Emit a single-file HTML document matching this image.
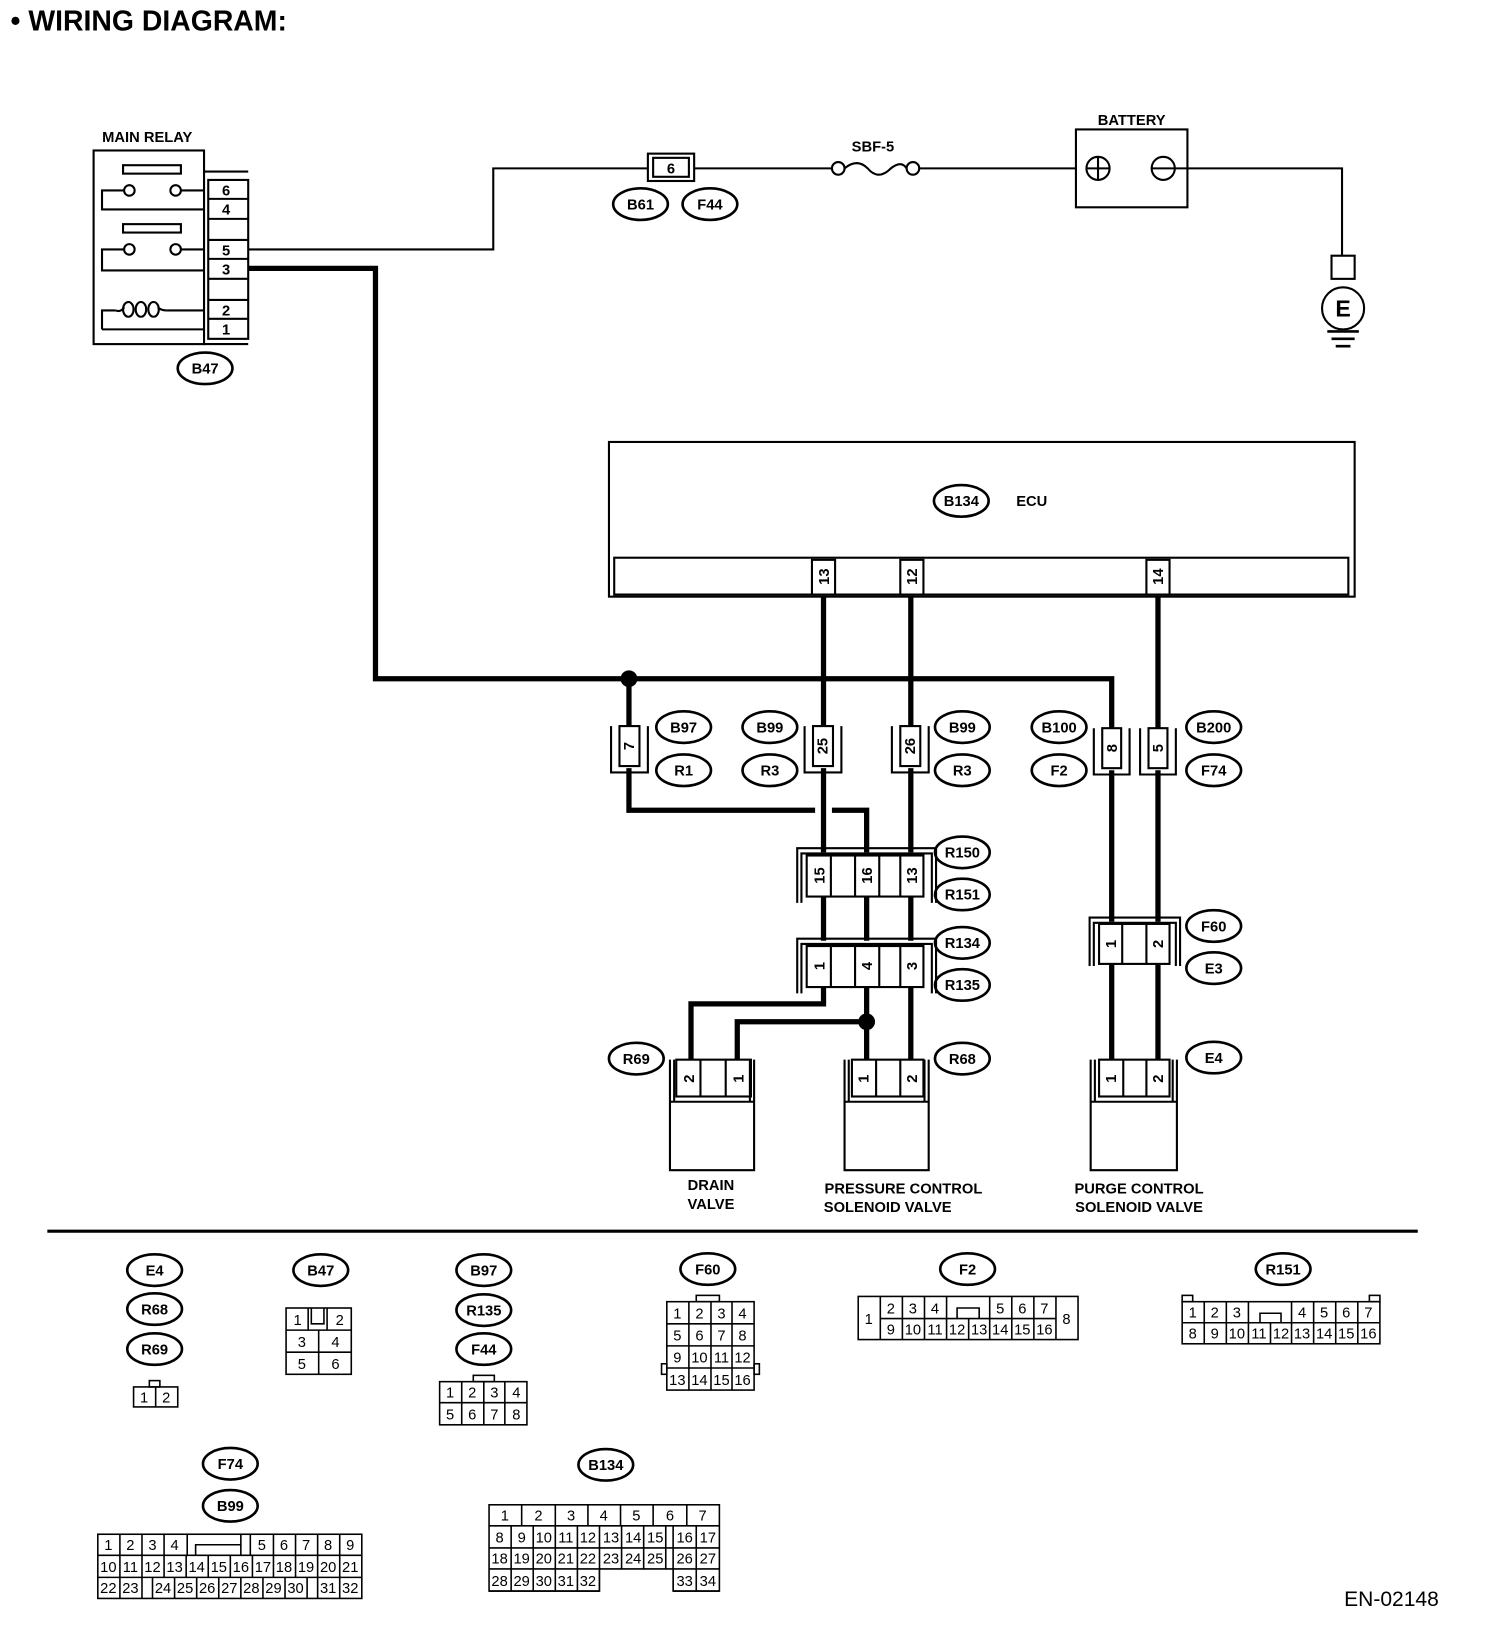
<!DOCTYPE html>
<html><head><meta charset="utf-8"><style>
html,body{margin:0;padding:0;background:#fff;width:1504px;height:1650px;overflow:hidden}
svg{display:block}
text{font-family:"Liberation Sans",Arial,sans-serif;fill:#000}
.b{font-weight:bold}
.lb{font-weight:bold;font-size:14px;text-anchor:middle}
.t{font-size:14px;text-anchor:middle}
</style></head><body>
<svg width="1504" height="1650" viewBox="0 0 1430 1568" preserveAspectRatio="none" xmlns="http://www.w3.org/2000/svg">
<g fill="none" stroke="#000" stroke-width="2">
<!-- main relay -->
<rect x="89" y="143" width="105" height="184"/>
<rect x="117" y="157" width="55" height="8"/>
<circle cx="123" cy="181" r="5"/><circle cx="167" cy="181" r="5"/>
<path d="M118,181H97V199H194M172,181H194"/>
<rect x="117" y="213" width="55" height="8"/>
<circle cx="123" cy="237" r="5"/><circle cx="167" cy="237" r="5"/>
<path d="M118,237H97V257H194M172,237H194"/>
<path d="M97,313V295H110 M158,295H194 M97,313H194"/>
<path d="M110,295 q5,2 8,-3 M150,292 q3,3 8,3"/>
<ellipse cx="122" cy="294" rx="5" ry="7"/><ellipse cx="134" cy="294" rx="5" ry="7"/><ellipse cx="146" cy="294" rx="5" ry="7"/>
<path d="M194,163H236M194,327H236"/>
<rect x="198" y="171" width="38" height="151"/>
<path d="M198,189H236M198,208H236M198,228H236M198,246H236M198,265H236M198,285H236M198,303H236"/>
<!-- thin wire to battery -->
<path d="M236,237H469V160H616M660,160H791M874,160H1023M1117,160H1276V243"/>
<rect x="616" y="146" width="44" height="26"/><rect x="621" y="150" width="34" height="18"/>
<circle cx="797" cy="160" r="6"/><circle cx="868" cy="160" r="6"/>
<path d="M803,160 q12,-10 22,0 q10,12 22,0 q10,-8 15,0"/>
<rect x="1023" y="123" width="106" height="74"/>
<circle cx="1044" cy="160" r="11"/><path d="M1044,149V171M1033,160H1055"/>
<circle cx="1106" cy="160" r="11"/><path d="M1095,160H1117"/>
<rect x="1266" y="243" width="22" height="22"/>
<circle cx="1277" cy="293" r="20"/>
<path d="M1262,315H1292M1266,322H1288M1270,329H1284" stroke-width="2.5"/>
<!-- ECU -->
<rect x="579" y="420" width="709" height="147"/>
<rect x="584" y="530" width="698" height="35"/>
<rect x="772" y="532" width="22" height="33"/><rect x="856" y="532" width="22" height="33"/><rect x="1090" y="532" width="22" height="33"/>
</g>
<g fill="none" stroke="#000" stroke-width="5">
<path d="M236,255H357V645H1057V692"/>
<path d="M598,645V690M598,730V770H775M791,770H824V810"/>
<path d="M783,567V690M783,730V810M783,852V894M783,938V954H657V1007"/>
<path d="M866,567V690M866,730V810M866,852V894M866,938V1007"/>
<path d="M824,852V894M824,938V1007M824,971H701V1007"/>
<path d="M1101,567V692M1101,732V876M1101,916V1007M1057,732V876M1057,916V1007"/>
</g>
<circle cx="598" cy="645" r="8"/><circle cx="824" cy="971" r="8"/>
<g fill="none" stroke="#000" stroke-width="2">
<rect x="589" y="690" width="19" height="38"/><path d="M581,690V734H616V690"/>
<rect x="773" y="690" width="19" height="38"/><path d="M765,690V734H800V690"/>
<rect x="856" y="690" width="19" height="38"/><path d="M848,690V734H883V690"/>
<rect x="1048" y="692" width="18" height="38"/><path d="M1040,692V736H1074V692"/>
<rect x="1092" y="692" width="18" height="38"/><path d="M1084,692V736H1118V692"/>
<path d="M758,858V806H890V858M762,858V811H886V858"/>
<rect x="767" y="813" width="111" height="39" fill="#fff"/>
<path d="M790,813V852M813,813V852M836,813V852M856,813V852"/>
<path d="M758,944V892H890V944M762,944V897H886V944"/>
<rect x="767" y="899" width="111" height="39" fill="#fff"/>
<path d="M790,899V938M813,899V938M836,899V938M856,899V938"/>
<path d="M1036,918V872H1122V918M1040,918V877H1118V918"/>
<rect x="1045" y="878" width="67" height="38" fill="#fff"/>
<path d="M1067,878V916M1090,878V916"/>
<path d="M637,1007V1112H717V1007M641,1007V1047H713V1007M637,1047H717"/>
<rect x="643" y="1007" width="71" height="35"/><path d="M666,1007V1042M690,1007V1042"/>
<path d="M803,1007V1112H883V1007M807,1007V1047H879V1007M803,1047H883"/>
<rect x="810" y="1007" width="68" height="35"/><path d="M833,1007V1042M856,1007V1042"/>
<path d="M1037,1007V1112H1119V1007M1041,1007V1047H1115V1007M1037,1047H1119"/>
<rect x="1045" y="1007" width="67" height="35"/><path d="M1068,1007V1042M1090,1007V1042"/>
<path d="M45,1170H1348" stroke-width="3"/>
<g stroke-width="2.5">
<ellipse cx="609" cy="194" rx="26" ry="15"/><ellipse cx="675" cy="194" rx="26" ry="15"/>
<ellipse cx="195" cy="350" rx="26" ry="15"/><ellipse cx="914" cy="476" rx="26" ry="15"/>
<ellipse cx="650" cy="691" rx="26" ry="15"/><ellipse cx="650" cy="732" rx="26" ry="15"/>
<ellipse cx="732" cy="691" rx="26" ry="15"/><ellipse cx="732" cy="732" rx="26" ry="15"/>
<ellipse cx="915" cy="691" rx="26" ry="15"/><ellipse cx="915" cy="732" rx="26" ry="15"/>
<ellipse cx="1007" cy="691" rx="26" ry="15"/><ellipse cx="1007" cy="732" rx="26" ry="15"/>
<ellipse cx="1154" cy="691" rx="26" ry="15"/><ellipse cx="1154" cy="732" rx="26" ry="15"/>
<ellipse cx="915" cy="810" rx="26" ry="15"/><ellipse cx="915" cy="850" rx="26" ry="15"/>
<ellipse cx="915" cy="896" rx="26" ry="15"/><ellipse cx="915" cy="936" rx="26" ry="15"/>
<ellipse cx="1154" cy="880" rx="26" ry="15"/><ellipse cx="1154" cy="920" rx="26" ry="15"/>
<ellipse cx="605" cy="1006" rx="26" ry="15"/><ellipse cx="915" cy="1006" rx="26" ry="15"/>
<ellipse cx="1154" cy="1005" rx="26" ry="15"/>
<ellipse cx="147" cy="1207" rx="26" ry="15"/><ellipse cx="147" cy="1244" rx="26" ry="15"/><ellipse cx="147" cy="1282" rx="26" ry="15"/>
<ellipse cx="305" cy="1207" rx="26" ry="15"/>
<ellipse cx="460" cy="1207" rx="26" ry="15"/><ellipse cx="460" cy="1245" rx="26" ry="15"/><ellipse cx="460" cy="1282" rx="26" ry="15"/>
<ellipse cx="673" cy="1206" rx="26" ry="15"/><ellipse cx="920" cy="1206" rx="26" ry="15"/><ellipse cx="1220" cy="1206" rx="26" ry="15"/>
<ellipse cx="219" cy="1391" rx="26" ry="15"/><ellipse cx="219" cy="1431" rx="26" ry="15"/><ellipse cx="576" cy="1392" rx="26" ry="15"/>
</g>
<g stroke-width="1.5">
<rect x="127" y="1318" width="42" height="19"/><path d="M148,1318V1337"/><rect x="142" y="1312" width="10" height="6"/>
<rect x="272" y="1243" width="62" height="63"/><path d="M272,1264H334M272,1285H334M303,1264V1306M293,1243V1264M311,1243V1264M296,1243V1258H308V1243"/>
<rect x="418" y="1313" width="83" height="41"/><path d="M418,1333H501M439,1313V1354M460,1313V1354M480,1313V1354"/><rect x="450" y="1307" width="20" height="6"/>
<rect x="634" y="1237" width="83" height="84"/><path d="M634,1258H717M634,1279H717M634,1300H717M655,1237V1321M676,1237V1321M696,1237V1321"/><rect x="662" y="1231" width="22" height="6"/><rect x="629" y="1296" width="5" height="10"/><rect x="717" y="1296" width="5" height="10"/>
<rect x="816" y="1232" width="209" height="41"/><path d="M837,1232V1273M1004,1232V1273M837,1253H900M941,1253H1004M858,1232V1253M879,1232V1253M900,1232V1253M962,1232V1253M983,1232V1253M941,1232V1253M900,1253H941M858,1253V1273M879,1253V1273M900,1253V1273M921,1253V1273M941,1253V1273M962,1253V1273M983,1253V1273M910,1253V1243H931V1253"/>
<rect x="1124" y="1237" width="188" height="40"/><path d="M1124,1257H1187M1228,1257H1312M1145,1237V1277M1166,1237V1277M1187,1237V1277M1228,1237V1277M1249,1237V1277M1270,1237V1277M1291,1237V1277M1208,1257V1277M1187,1257H1228M1198,1257V1248H1218V1257"/><rect x="1124" y="1231" width="10" height="6"/><rect x="1302" y="1231" width="10" height="6"/>
<rect x="93" y="1458" width="251" height="61"/>
<path d="M93,1478H344M93,1499H344M114,1458V1519M135,1458V1519M156,1458V1478M229,1458V1478M238,1458V1478M260,1458V1478M281,1458V1478M302,1458V1478M323,1458V1478M156,1478V1499M177,1478V1499M198,1478V1499M219,1478V1499M240,1478V1499M260,1478V1499M281,1478V1499M302,1478V1499M323,1478V1499M145,1499V1519M166,1499V1519M187,1499V1519M208,1499V1519M229,1499V1519M250,1499V1519M271,1499V1519M292,1499V1519M302,1499V1519M323,1499V1519M178,1458V1478M186,1478V1468H229V1478"/>
<rect x="465" y="1430" width="219" height="82"/>
<path d="M465,1450H684M465,1471H684M465,1491H684M496,1430V1450M528,1430V1450M559,1430V1450M590,1430V1450M621,1430V1450M653,1430V1450M486,1450V1512M507,1450V1512M528,1450V1512M549,1450V1512M570,1450V1512M591,1450V1491M612,1450V1491M633,1450V1491M640,1450V1512M662,1450V1512"/>
</g>
</g>
<rect x="570" y="1492" width="70" height="21" fill="#fff"/>
<path d="M570,1491V1512H465M640,1491V1512H684" fill="none" stroke="#000" stroke-width="1.5"/>
<text x="10" y="29" class="b" font-size="27">• WIRING DIAGRAM:</text>
<g class="lb">
<text x="140" y="135">MAIN RELAY</text>
<text x="1076" y="119">BATTERY</text><text x="830" y="144">SBF-5</text>
<text x="981" y="481">ECU</text>
<text x="676" y="1131">DRAIN</text><text x="676" y="1149">VALVE</text>
<text x="859" y="1134">PRESSURE CONTROL</text><text x="844" y="1152">SOLENOID VALVE</text>
<text x="1083" y="1134">PURGE CONTROL</text><text x="1083" y="1152">SOLENOID VALVE</text>
<text x="215" y="186">6</text><text x="215" y="204">4</text><text x="215" y="243">5</text><text x="215" y="261">3</text><text x="215" y="300">2</text><text x="215" y="318">1</text>
<text x="638" y="165">6</text>
<text x="1277" y="301" font-size="22">E</text>
<text x="609" y="199">B61</text><text x="675" y="199">F44</text><text x="195" y="355">B47</text><text x="914" y="481">B134</text>
<text x="650" y="696">B97</text><text x="650" y="737">R1</text><text x="732" y="696">B99</text><text x="732" y="737">R3</text>
<text x="915" y="696">B99</text><text x="915" y="737">R3</text><text x="1007" y="696">B100</text><text x="1007" y="737">F2</text>
<text x="1154" y="696">B200</text><text x="1154" y="737">F74</text>
<text x="915" y="815">R150</text><text x="915" y="855">R151</text><text x="915" y="901">R134</text><text x="915" y="941">R135</text>
<text x="1154" y="885">F60</text><text x="1154" y="925">E3</text><text x="605" y="1011">R69</text><text x="915" y="1011">R68</text><text x="1154" y="1010">E4</text>
<text x="147" y="1212">E4</text><text x="147" y="1249">R68</text><text x="147" y="1287">R69</text><text x="305" y="1212">B47</text>
<text x="460" y="1212">B97</text><text x="460" y="1250">R135</text><text x="460" y="1287">F44</text>
<text x="673" y="1211">F60</text><text x="920" y="1211">F2</text><text x="1220" y="1211">R151</text>
<text x="219" y="1396">F74</text><text x="219" y="1436">B99</text><text x="576" y="1397">B134</text>
</g>
<g class="lb" font-size="13">
<text transform="translate(788,548) rotate(-90)">13</text>
<text transform="translate(872,548) rotate(-90)">12</text>
<text transform="translate(1106,548) rotate(-90)">14</text>
<text transform="translate(603,709) rotate(-90)">7</text>
<text transform="translate(787,709) rotate(-90)">25</text>
<text transform="translate(870,709) rotate(-90)">26</text>
<text transform="translate(1062,711) rotate(-90)">8</text>
<text transform="translate(1106,711) rotate(-90)">5</text>
<text transform="translate(784,832) rotate(-90)">15</text>
<text transform="translate(829,832) rotate(-90)">16</text>
<text transform="translate(872,832) rotate(-90)">13</text>
<text transform="translate(784,918) rotate(-90)">1</text>
<text transform="translate(829,918) rotate(-90)">4</text>
<text transform="translate(872,918) rotate(-90)">3</text>
<text transform="translate(1061,897) rotate(-90)">1</text>
<text transform="translate(1106,897) rotate(-90)">2</text>
<text transform="translate(660,1025) rotate(-90)">2</text>
<text transform="translate(707,1025) rotate(-90)">1</text>
<text transform="translate(826,1025) rotate(-90)">1</text>
<text transform="translate(872,1025) rotate(-90)">2</text>
<text transform="translate(1061,1025) rotate(-90)">1</text>
<text transform="translate(1106,1025) rotate(-90)">2</text>
</g>
<g class="t">
<text x="137" y="1333">1</text><text x="158" y="1333">2</text>
<text x="283" y="1259">1</text><text x="323" y="1259">2</text><text x="287" y="1280">3</text><text x="319" y="1280">4</text><text x="287" y="1301">5</text><text x="319" y="1301">6</text>
<text x="428" y="1328">1</text><text x="449" y="1328">2</text><text x="470" y="1328">3</text><text x="491" y="1328">4</text>
<text x="428" y="1349">5</text><text x="449" y="1349">6</text><text x="470" y="1349">7</text><text x="491" y="1349">8</text>
<text x="644" y="1253">1</text><text x="665" y="1253">2</text><text x="686" y="1253">3</text><text x="706" y="1253">4</text>
<text x="644" y="1274">5</text><text x="665" y="1274">6</text><text x="686" y="1274">7</text><text x="706" y="1274">8</text>
<text x="644" y="1295">9</text><text x="665" y="1295">10</text><text x="686" y="1295">11</text><text x="706" y="1295">12</text>
<text x="644" y="1316">13</text><text x="665" y="1316">14</text><text x="686" y="1316">15</text><text x="706" y="1316">16</text>
<text x="826" y="1258">1</text><text x="1014" y="1258">8</text>
<text x="847" y="1248">2</text><text x="868" y="1248">3</text><text x="889" y="1248">4</text><text x="951" y="1248">5</text><text x="972" y="1248">6</text><text x="993" y="1248">7</text>
<text x="847" y="1268">9</text><text x="868" y="1268">10</text><text x="889" y="1268">11</text><text x="910" y="1268">12</text><text x="931" y="1268">13</text><text x="951" y="1268">14</text><text x="972" y="1268">15</text><text x="993" y="1268">16</text>
<text x="1134" y="1252">1</text><text x="1155" y="1252">2</text><text x="1176" y="1252">3</text><text x="1238" y="1252">4</text><text x="1259" y="1252">5</text><text x="1280" y="1252">6</text><text x="1301" y="1252">7</text>
<text x="1134" y="1272">8</text><text x="1155" y="1272">9</text><text x="1176" y="1272">10</text><text x="1197" y="1272">11</text><text x="1218" y="1272">12</text><text x="1238" y="1272">13</text><text x="1259" y="1272">14</text><text x="1280" y="1272">15</text><text x="1301" y="1272">16</text>
<text x="103" y="1473">1</text><text x="124" y="1473">2</text><text x="145" y="1473">3</text><text x="166" y="1473">4</text>
<text x="249" y="1473">5</text><text x="270" y="1473">6</text><text x="291" y="1473">7</text><text x="312" y="1473">8</text><text x="333" y="1473">9</text>
<text x="103" y="1494">10</text><text x="124" y="1494">11</text><text x="145" y="1494">12</text><text x="166" y="1494">13</text><text x="187" y="1494">14</text><text x="208" y="1494">15</text><text x="229" y="1494">16</text><text x="250" y="1494">17</text><text x="270" y="1494">18</text><text x="291" y="1494">19</text><text x="312" y="1494">20</text><text x="333" y="1494">21</text>
<text x="103" y="1514">22</text><text x="124" y="1514">23</text><text x="155" y="1514">24</text><text x="176" y="1514">25</text><text x="197" y="1514">26</text><text x="218" y="1514">27</text><text x="239" y="1514">28</text><text x="260" y="1514">29</text><text x="281" y="1514">30</text><text x="312" y="1514">31</text><text x="333" y="1514">32</text>
<text x="480" y="1445">1</text><text x="512" y="1445">2</text><text x="543" y="1445">3</text><text x="574" y="1445">4</text><text x="605" y="1445">5</text><text x="637" y="1445">6</text><text x="668" y="1445">7</text>
<text x="475" y="1466">8</text><text x="496" y="1466">9</text><text x="517" y="1466">10</text><text x="538" y="1466">11</text><text x="559" y="1466">12</text><text x="581" y="1466">13</text><text x="602" y="1466">14</text><text x="623" y="1466">15</text><text x="651" y="1466">16</text><text x="673" y="1466">17</text>
<text x="475" y="1486">18</text><text x="496" y="1486">19</text><text x="517" y="1486">20</text><text x="538" y="1486">21</text><text x="559" y="1486">22</text><text x="581" y="1486">23</text><text x="602" y="1486">24</text><text x="623" y="1486">25</text><text x="651" y="1486">26</text><text x="673" y="1486">27</text>
<text x="475" y="1507">28</text><text x="496" y="1507">29</text><text x="517" y="1507">30</text><text x="538" y="1507">31</text><text x="559" y="1507">32</text><text x="651" y="1507">33</text><text x="673" y="1507">34</text>
</g>
<text x="1278" y="1526" font-size="20">EN-02148</text>
</svg>
</body></html>
